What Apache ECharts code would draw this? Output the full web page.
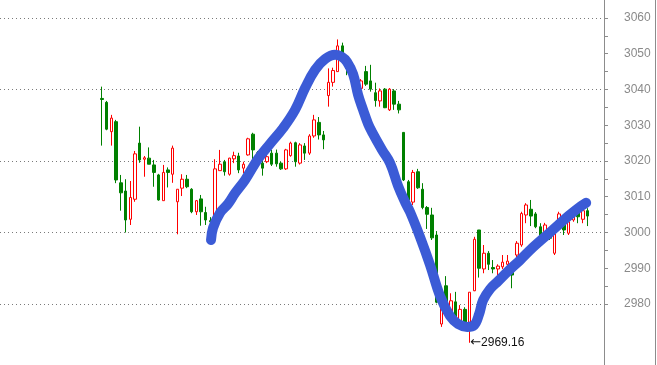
<!DOCTYPE html>
<html>
<head>
<meta charset="utf-8">
<script src="https://cdn.jsdelivr.net/npm/echarts@6/dist/echarts.min.js"></script>
<style>
html,body{margin:0;padding:0;background:#fff;}
#chart{width:657px;height:365px;}
</style>
</head>
<body>
<div id="chart"></div>
<script>
const categories = ['1','2','3','4','5','6','7','8','9','10','11','12','13','14','15','16','17','18','19','20',
'21','22','23','24','25','26','27','28','29','30','31','32','33','34','35','36','37','38','39','40',
'41','42','43','44','45','46','47','48','49','50','51','52','53','54','55','56','57','58','59','60',
'61','62','63','64','65','66','67','68','69','70','71','72','73','74','75','76','77','78','79','80',
'81','82','83','84','85','86','87','88','89','90','91','92','93','94','95','96','97','98','99','100',
'101','102','103','104'];

const openVals = [3037.5,3036.4,3028.2,3031.0,3013.9,3011.6,3003.7,3009.3,3025.0,3020.5,
3020.8,3018.9,3016.1,3008.9,3017.5,3016.3,3008.6,3012.4,3014.9,3012.1,
3005.8,3009.4,3005.6,3003.3,3001.0,3017.3,3019.8,3016.3,3020.6,3021.4,
3018.0,3021.7,3027.5,3022.3,3019.4,3019.8,3022.2,3022.2,3019.4,3017.8,
3021.5,3025.1,3019.4,3024.2,3022.2,3027.0,3030.8,3027.3,3038.3,3042.0,
3045.0,3052.2,3049.2,3045.3,3042.7,3040.3,3045.0,3042.4,3039.1,3036.8,
3040.1,3034.3,3039.6,3035.9,3028.0,3014.2,3008.5,3017.0,3012.1,3007.0,
3004.9,2999.3,2974.4,2985.1,2977.4,2980.6,2975.0,2978.5,2974.9,2983.7,
3000.7,2989.8,2994.2,2990.2,2989.8,2990.4,2991.1,2990.6,2993.7,2996.5,
3004.9,3006.5,3005.2,3001.6,3000.2,3000.5,2994.2,3002.6,3003.0,2999.8,
3003.5,3005.8,3003.7,3006.1];

const closeVals = [3037.2,3028.9,3032.0,3014.7,3011.1,3003.5,3009.8,3022.0,3020.3,3020.9,
3019.1,3016.8,3009.1,3016.8,3016.8,3023.6,3012.1,3014.9,3012.8,3005.8,
3008.9,3005.8,3003.5,3003.0,3017.8,3019.1,3017.0,3020.8,3021.5,3017.5,
3019.1,3026.2,3023.1,3019.5,3018.0,3021.2,3019.1,3019.2,3017.8,3023.1,
3025.0,3019.8,3024.5,3022.2,3027.0,3031.5,3027.3,3025.9,3042.0,3045.3,
3052.2,3049.2,3045.9,3042.9,3041.7,3042.4,3041.5,3040.1,3036.9,3039.6,
3034.9,3040.1,3035.9,3034.3,3014.7,3009.1,3016.8,3012.5,3007.0,3005.1,
2998.5,2980.5,2980.2,2979.7,2980.9,2975.5,2978.5,2975.0,2983.3,2998.1,
2990.0,2994.2,2991.1,2989.8,2990.6,2991.7,2992.0,2988.1,2997.0,3005.3,
3007.7,3004.6,3001.6,2998.8,3002.1,2998.4,2999.6,3005.2,3000.7,3003.0,
3004.9,3004.4,3006.1,3004.6];

const lowVals = [3024.3,3028.6,3024.3,3013.8,3006.1,3000.0,3002.1,3008.6,3019.5,3015.6,
3019.1,3012.8,3008.9,3008.9,3012.6,3013.9,2999.5,3010.2,3012.4,3005.4,
3004.9,3001.9,3002.1,3000.5,2999.5,3017.3,3015.9,3015.9,3019.4,3016.6,
3016.6,3021.5,3020.3,3018.0,3015.9,3019.4,3018.6,3018.4,3017.5,3017.5,
3021.2,3018.4,3019.0,3020.3,3021.7,3026.5,3026.0,3023.3,3035.2,3040.8,
3045.0,3048.7,3044.0,3042.0,3041.0,3039.4,3041.0,3039.4,3035.2,3035.2,
3034.8,3034.0,3034.3,3033.3,3014.4,3008.6,3007.7,3012.2,3006.5,3001.0,
2997.9,2980.2,2973.6,2979.2,2976.9,2975.0,2974.7,2974.4,2969.16,2983.6,
2987.4,2988.6,2989.5,2988.6,2988.1,2989.8,2990.4,2984.4,2993.0,2996.0,
3002.6,3001.8,3001.2,2997.9,2999.9,2997.9,2993.7,3001.6,2999.3,2999.3,
3003.0,3002.6,3002.6,3001.8];

const highVals = [3040.8,3036.8,3032.9,3031.5,3016.1,3014.9,3014.4,3022.8,3029.6,3021.4,
3023.8,3020.3,3016.4,3018.9,3018.2,3024.3,3012.1,3016.3,3016.1,3012.4,
3009.1,3010.5,3007.2,3004.3,3020.5,3023.1,3020.3,3020.9,3022.6,3022.3,
3019.8,3026.5,3027.9,3022.8,3021.2,3022.2,3023.1,3023.2,3019.8,3023.4,
3025.4,3025.4,3025.0,3025.0,3027.5,3032.9,3032.3,3028.4,3045.9,3046.1,
3054.0,3053.1,3049.5,3046.4,3044.5,3042.9,3046.6,3046.9,3041.9,3040.3,
3040.4,3040.4,3040.1,3036.8,3028.1,3014.7,3017.5,3017.8,3013.8,3007.4,
3006.9,3000.4,2984.6,2987.8,2983.0,2983.4,2979.7,2979.1,2983.3,2998.8,
3000.7,2996.5,2994.8,2992.3,2991.1,2993.7,2993.7,2991.4,2997.6,3005.8,
3008.2,3009.1,3005.7,3002.6,3002.7,3001.3,3000.2,3005.8,3004.0,3003.5,
3006.8,3006.8,3006.8,3006.8];

// hand-drawn trend stroke: position along the bar index, price level
const curveIdx = [23.13,23.56,25.04,26.74,28.23,30.35,33.11,35.65,38.41,40.96,43.08,45.20,47.33,49.45,50.93,51.99,53.27,54.33,55.39,56.45,57.30,59.42,61.12,62.82,64.30,65.37,67.49,69.61,71.73,73.85,75.55,77.46,78.95,80.01,80.86,82.34,84.04,86.16,88.71,91.47,95.08,98.68,100.81,102.72];
const curveVal = [2997.9,3001.3,3005.5,3008.0,3011.0,3014.7,3020.6,3024.8,3029.2,3034.3,3040.4,3045.5,3048.5,3049.7,3049.1,3047.7,3044.3,3038.5,3034.3,3030.4,3028.1,3023.1,3019.4,3013.0,3008.5,3005.7,2998.7,2990.9,2982.2,2976.6,2974.4,2973.6,2974.1,2977.2,2981.1,2984.2,2986.4,2989.2,2992.3,2995.9,3000.1,3004.3,3006.6,3008.3];

const gridValues = [2980,3000,3020,3040,3060];
const tickValues = [2980,2985,2990,2995,3000,3005,3010,3015,3020,3025,3030,3035,3040,3045,3050,3055,3060];
const labelValues = [2980,2990,3000,3010,3020,3030,3040,3050,3060];

const kData = openVals.map((o, i) => [o, closeVals[i], lowVals[i], highVals[i]]);
const curveData = curveIdx.map((x, i) => [x, curveVal[i]]);

const chart = echarts.init(document.getElementById('chart'), null, {renderer: 'canvas'});
const font = 'Liberation Sans, Arial, sans-serif';
const yMin = 2962.94, yMax = 3065.03;
chart.setOption({
  animation: false,
  backgroundColor: '#ffffff',
  grid: [
    {left: 0, right: 53, top: 0, bottom: 0, containLabel: false},
    {left: 99.64, right: 53, top: 0, bottom: 0, containLabel: false}
  ],
  xAxis: [
    {type: 'value', gridIndex: 0, min: 0, max: 1, show: false},
    {type: 'category', gridIndex: 1, data: categories, max: 106, boundaryGap: true, show: false},
    {type: 'value', gridIndex: 1, min: -0.5, max: 106.5, show: false}
  ],
  yAxis: [
    {type: 'value', gridIndex: 0, position: 'right', min: yMin, max: yMax,
     axisLine: {show: false}, axisTick: {show: false, customValues: gridValues},
     axisLabel: {show: false, customValues: gridValues},
     splitLine: {show: true, lineStyle: {color: '#7a7a7a', type: [1, 3], width: 1}}},
    {type: 'value', gridIndex: 0, position: 'right', min: yMin, max: yMax,
     axisLine: {show: true, lineStyle: {color: '#8c8c8c', width: 1}},
     axisTick: {show: true, inside: false, length: 4, customValues: tickValues, lineStyle: {color: '#8c8c8c'}},
     axisLabel: {show: true, customValues: labelValues, margin: 20, color: '#8a8a8a', fontSize: 12, fontFamily: font,
                 formatter: v => String(v)},
     splitLine: {show: false}},
    {type: 'value', gridIndex: 1, position: 'right', min: yMin, max: yMax, show: false,
     splitLine: {show: false}}
  ],
  graphic: [
    {type: 'line', shape: {x1: 655.5, y1: 0, x2: 655.5, y2: 365}, style: {stroke: '#8c8c8c', lineWidth: 1}}
  ],
  series: [
    {
      type: 'candlestick',
      xAxisIndex: 1, yAxisIndex: 2,
      data: kData,
      barWidth: 3,
      itemStyle: {color: '#ffffff', color0: '#008000', borderColor: '#ff0000', borderColor0: '#008000', borderWidth: 1},
      markPoint: {
        symbol: 'circle', symbolSize: 1,
        itemStyle: {color: 'rgba(0,0,0,0)'},
        label: {show: true, position: 'right', distance: 0,
                formatter: p => '{a|\u2190}{b|' + p.value + '}',
                rich: {
                  a: {fontFamily: 'DejaVu Sans', fontSize: 13, color: '#111'},
                  b: {fontFamily: font, fontSize: 12, color: '#111'}
                }},
        data: [{type: 'min', valueDim: 'lowest'}]
      }
    },
    {
      type: 'line',
      xAxisIndex: 2, yAxisIndex: 2,
      data: curveData,
      smooth: 0.4,
      symbol: 'none',
      z: 5,
      lineStyle: {color: '#3b5bd6', width: 10, cap: 'round', join: 'round'}
    }
  ]
});
</script>
</body>
</html>
